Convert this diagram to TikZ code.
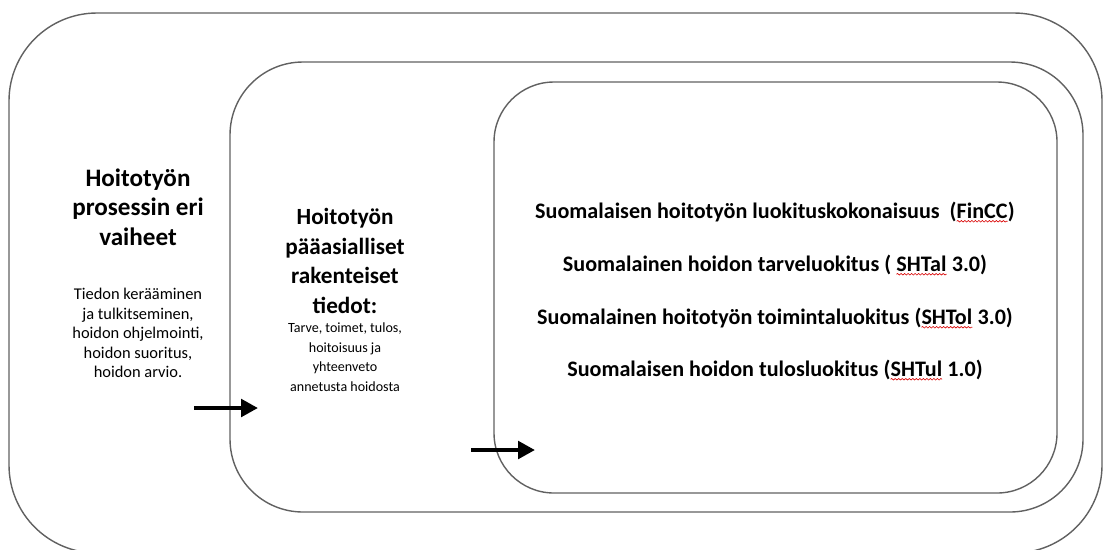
\documentclass[tikz,border=0pt]{standalone}
\usepackage{fontspec}
\setmainfont{Carlito}
\usetikzlibrary{arrows.meta,decorations.pathmorphing}

% red spell-check wave under a word
\newcommand{\spellwave}[1]{\tikz[baseline=(sw.base)]{\node[inner sep=0pt,outer sep=0pt] (sw) {#1};
  \draw[red!85!black,line width=0.35pt,decorate,decoration={snake,amplitude=0.45pt,segment length=2pt}]
    ([yshift=-1.8pt]sw.base west) -- ([yshift=-1.8pt]sw.base east);}}

\begin{document}
\begin{tikzpicture}[x=0.02cm,y=-0.02cm,
    ringbox/.style={rounded corners=#1,draw=black!62,line width=0.8pt},
    heading/.style={align=center,inner sep=0pt,font=\fontsize{#1}{16.8}\selectfont\bfseries},
    detail/.style={align=center,inner sep=0pt,font=\fontsize{#1}{11.1}\selectfont},
    classline/.style={inner sep=0pt,font=\fontsize{12.6}{15}\selectfont\bfseries},
    pusharrow/.style={line width=2.8pt,-{Triangle[length=9.6pt,width=9.8pt]}}]

            \clip (0,0) rectangle (1104,549);

            % the three nested frames
            \draw[ringbox=1.76cm] (9,13) rectangle (1102,553);
            \draw[ringbox=1.46cm] (230,62) rectangle (1083,512);
            \draw[ringbox=1.2cm] (494,82) rectangle (1057,493);

            % outer frame texts
            \node[heading=14.3] (phases) at (138,207) {Hoitotyön\\prosessin eri\\vaiheet};
            \node[detail=9.35] (phasesteps) at (138,333) {Tiedon kerääminen\\ ja tulkitseminen,\\hoidon ohjelmointi,\\ hoidon suoritus,\\hoidon arvio.};

            % middle frame texts
            \node[heading=13.2] (coredata) at (345,261) {Hoitotyön\\pääasialliset\\rakenteiset\\tiedot:};
            \node[detail=8] (coreitems) at (345,357) {Tarve, toimet, tulos,\\hoitoisuus ja\\yhteenveto\\annetusta hoidosta};

            % inner frame texts
            \node[classline] (fincc) at (775,212) {Suomalaisen hoitotyön luokituskokonaisuus\ \ (\spellwave{FinCC})};
            \node[classline] (shtal) at (775,265) {Suomalainen hoidon tarveluokitus ( \spellwave{SHTal} 3.0)};
            \node[classline] (shtol) at (775,318) {Suomalainen hoitotyön toimintaluokitus (\spellwave{SHTol} 3.0)};
            \node[classline] (shtul) at (775,370) {Suomalaisen hoidon tulosluokitus (\spellwave{SHTul} 1.0)};

            % arrows across the frames
            \coordinate (outerin) at (194,408);
            \coordinate (middlein) at (258,408);
            \coordinate (middleout) at (471,450);
            \coordinate (innerin) at (535,450);
            \draw[pusharrow] (outerin) -- (middlein);
            \draw[pusharrow] (middleout) -- (innerin);
        \end{tikzpicture}
\end{document}
